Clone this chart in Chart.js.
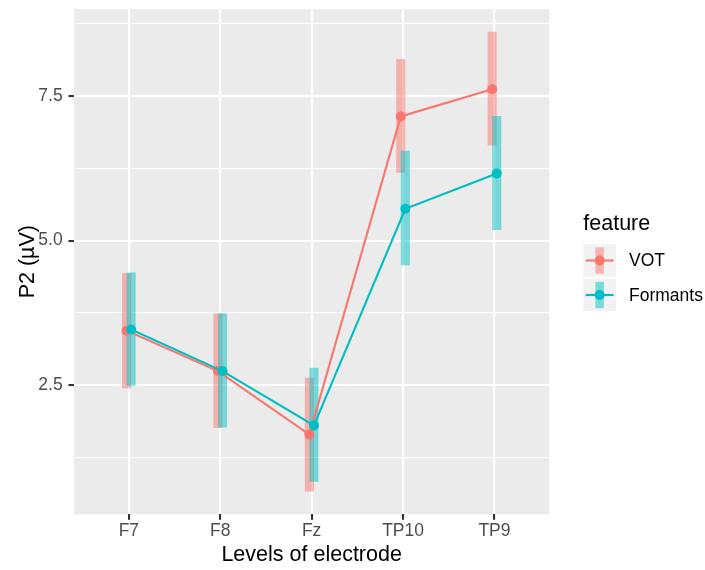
<!DOCTYPE html>
<html>
<head>
<meta charset="utf-8">
<script src="https://cdn.jsdelivr.net/npm/chart.js@4.4.1/dist/chart.umd.min.js"></script>
<style>
  html, body { margin: 0; padding: 0; background: #fff; }
  #wrap { width: 705px; height: 570px; }
</style>
</head>
<body>
<div id="wrap"><canvas id="chart" width="705" height="570"></canvas></div>
<script>
/* ── Data ────────────────────────────────────────────────────── */
const electrodes = ['F7', 'F8', 'Fz', 'TP10', 'TP9'];

const votMean  = [3.44, 2.74, 1.64, 7.15, 7.62];
const votLow   = [2.45, 1.76, 0.66, 6.18, 6.65];
const votHigh  = [4.43, 3.73, 2.62, 8.14, 8.61];

const formMean = [3.46, 2.74, 1.80, 5.55, 6.16];
const formLow  = [2.49, 1.77, 0.83, 4.58, 5.19];
const formHigh = [4.44, 3.73, 2.79, 6.55, 7.15];

const yTicks      = [1.25, 2.5, 3.75, 5, 6.25, 7.5, 8.75];
const yMajor      = [2.5, 5, 7.5];
const legendTitle = 'feature';
const legendNames = ['VOT', 'Formants'];

/* ── Style ───────────────────────────────────────────────────── */
const FONT   = "'Liberation Sans', Arial, Helvetica, sans-serif";
const RED    = '#F8766D';
const TEAL   = '#00BFC4';
const RED_A  = 'rgba(248,118,109,0.5)';
const TEAL_A = 'rgba(0,191,196,0.5)';
const DODGE  = 0.025;

const lineOf = (means, shift) => means.map((m, i) => ({ x: i + shift, y: m }));
const barOf  = (lo, hi, shift) => lo.map((l, i) => ({ x: i + shift, y: [l, hi[i]] }));

const isMajor = v => yMajor.some(m => Math.abs(m - v) < 1e-6);

/* grey panel behind everything */
const panelBg = {
  id: 'panelBg',
  beforeDraw(chart) {
    const { ctx, chartArea: a } = chart;
    ctx.save();
    ctx.fillStyle = '#EBEBEB';
    ctx.fillRect(a.left, a.top, a.right - a.left, a.bottom - a.top);
    ctx.restore();
  }
};

/* ggplot-style legend: key = line + point + translucent bar */
const ggLegend = {
  id: 'ggLegend',
  afterDraw(chart) {
    const { ctx } = chart;
    const colors  = [RED, TEAL];
    const alphas  = [RED_A, TEAL_A];
    const x0 = 583.3, keyW = 32.7, keyH = 32.4;
    const tops = [244.3, 278.8];

    ctx.save();
    ctx.fillStyle = '#000';
    ctx.font = `21.5px ${FONT}`;
    ctx.textBaseline = 'alphabetic';
    ctx.textAlign = 'left';
    ctx.fillText(legendTitle, x0, 230);

    legendNames.forEach((name, i) => {
      const top = tops[i];
      const cx = x0 + keyW / 2, cy = top + keyH / 2;
      ctx.fillStyle = '#F2F2F2';
      ctx.fillRect(x0, top, keyW, keyH);
      ctx.fillStyle = alphas[i];
      ctx.fillRect(cx - 4.2, top + 3, 8.4, keyH - 6);
      ctx.strokeStyle = colors[i];
      ctx.lineWidth = 2.1;
      ctx.beginPath();
      ctx.moveTo(x0 + 2.4, cy);
      ctx.lineTo(x0 + keyW - 2.4, cy);
      ctx.stroke();
      ctx.fillStyle = colors[i];
      ctx.beginPath();
      ctx.arc(cx, cy, 5, 0, Math.PI * 2);
      ctx.fill();

      ctx.fillStyle = '#000';
      ctx.font = `17.5px ${FONT}`;
      ctx.textBaseline = 'middle';
      ctx.fillText(name, 629, cy + 0.8);
    });
    ctx.restore();
  }
};

/* ── Chart ───────────────────────────────────────────────────── */
new Chart(document.getElementById('chart'), {
  type: 'line',
  data: {
    datasets: [
      {
        label: 'Formants',
        data: lineOf(formMean, DODGE),
        borderColor: TEAL,
        backgroundColor: TEAL,
        borderWidth: 2.1,
        pointRadius: 5,
        pointBorderWidth: 0,
        tension: 0,
      },
      {
        label: 'VOT',
        data: lineOf(votMean, -DODGE),
        borderColor: RED,
        backgroundColor: RED,
        borderWidth: 2.1,
        pointRadius: 5,
        pointBorderWidth: 0,
        tension: 0,
      },
      {
        type: 'bar',
        label: 'Formants range',
        data: barOf(formLow, formHigh, DODGE),
        backgroundColor: TEAL_A,
        borderWidth: 0,
        barThickness: 8.4,
        grouped: false,
      },
      {
        type: 'bar',
        label: 'VOT range',
        data: barOf(votLow, votHigh, -DODGE),
        backgroundColor: RED_A,
        borderWidth: 0,
        barThickness: 8.4,
        grouped: false,
      },
    ],
  },
  options: {
    responsive: false,
    animation: false,
    events: [],
    layout: { padding: { left: 0, top: 9, right: 155.7, bottom: 0 } },
    plugins: {
      legend: { display: false },
      tooltip: { enabled: false },
    },
    scales: {
      x: {
        type: 'linear',
        min: -0.6,
        max: 4.6,
        offset: false,
        afterBuildTicks: s => { s.ticks = electrodes.map((_, i) => ({ value: i })); },
        afterFit: s => { s.height = 55.7; s.paddingLeft = 0; s.paddingRight = 0; },
        ticks: {
          callback: v => electrodes[v],
          color: '#4D4D4D',
          font: { family: FONT, size: 17.5 },
          padding: 1.1,
          maxRotation: 0,
          autoSkip: false,
        },
        grid: {
          offset: false,
          color: '#FFFFFF',
          lineWidth: 2.1,
          tickColor: '#333333',
          tickWidth: 2.1,
          tickLength: 5.5,
        },
        border: { display: false },
        title: {
          display: true,
          text: 'Levels of electrode',
          color: '#000',
          font: { family: FONT, size: 21.5 },
          padding: { top: 0, bottom: 2.5 },
        },
      },
      y: {
        min: 0.26,
        max: 9.01,
        afterBuildTicks: s => { s.ticks = yTicks.map(v => ({ value: v })); },
        afterFit: s => { s.width = 74; s.paddingTop = 0; s.paddingBottom = 0; },
        ticks: {
          callback: v => (isMajor(v) ? v.toFixed(1) : ''),
          color: '#4D4D4D',
          font: { family: FONT, size: 17.5 },
          padding: 5.8,
        },
        grid: {
          color: '#FFFFFF',
          lineWidth: c => (isMajor(c.tick.value) ? 2.1 : 1.05),
          tickColor: c => (isMajor(c.tick.value) ? '#333333' : 'rgba(0,0,0,0)'),
          tickWidth: 2.1,
          tickLength: 5.5,
        },
        border: { display: false },
        title: {
          display: true,
          text: 'P2 (µV)',
          color: '#000',
          font: { family: FONT, size: 21.5 },
          padding: { top: 15, bottom: 0 },
        },
      },
    },
  },
  plugins: [panelBg, ggLegend],
});
</script>
</body>
</html>
